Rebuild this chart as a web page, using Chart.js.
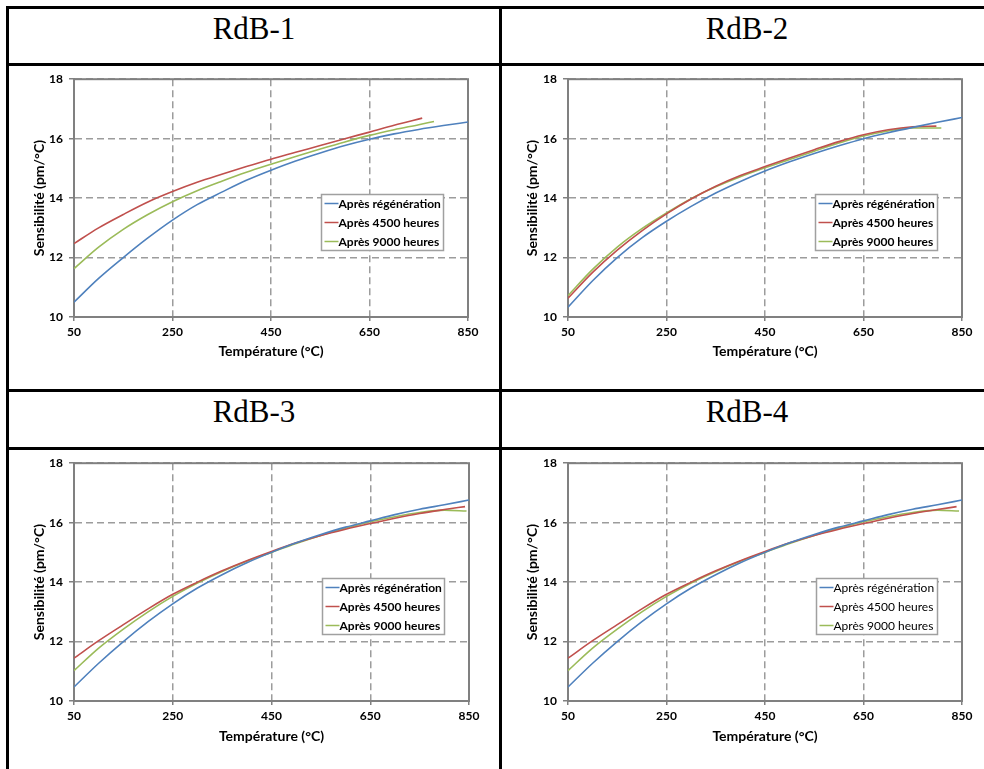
<!DOCTYPE html>
<html>
<head>
<meta charset="utf-8">
<script src="https://cdn.jsdelivr.net/npm/chart.js@4.4.0/dist/chart.umd.min.js"></script>
<style>
body { margin:0; background:#fff; overflow:hidden; width:984px; height:769px; position:relative; }
.bar { position:absolute; background:#000; }
.title { position:absolute; width:490px; text-align:center; font-family:"Liberation Serif","Times New Roman",serif; font-size:31px; line-height:31px; color:#000; }
canvas { position:absolute; }
</style>
</head>
<body>
<div class="bar" style="left:6px;top:6px;width:990px;height:3px"></div>
<div class="bar" style="left:6px;top:63px;width:990px;height:3px"></div>
<div class="bar" style="left:6px;top:389px;width:990px;height:3px"></div>
<div class="bar" style="left:6px;top:447px;width:990px;height:3px"></div>
<div class="bar" style="left:6px;top:6px;width:3px;height:770px"></div>
<div class="bar" style="left:499px;top:6px;width:3px;height:770px"></div>

<div class="title" id="t1" style="left:9px;top:13px"></div>
<div class="title" id="t2" style="left:502px;top:13px"></div>
<div class="title" id="t3" style="left:9px;top:396px"></div>
<div class="title" id="t4" style="left:502px;top:396px"></div>

<canvas id="c1" width="490" height="323" style="left:9px;top:66px"></canvas>
<canvas id="c2" width="490" height="323" style="left:502px;top:66px"></canvas>
<canvas id="c3" width="490" height="319" style="left:9px;top:450px"></canvas>
<canvas id="c4" width="490" height="319" style="left:502px;top:450px"></canvas>

<script>
// data
var titles = ["RdB-1", "RdB-2", "RdB-3", "RdB-4"];
var seriesNames = ["Après régénération", "Après 4500 heures", "Après 9000 heures"];
var seriesColors = ["#4F81BD", "#C0504D", "#9BBB59"];
var xTicks = [50, 250, 450, 650, 850];
var yTicks = [10, 12, 14, 16, 18];
var xTitle = "Température (°C)";
var yTitle = "Sensibilité (pm/°C)";

var tFull = [50, 100, 150, 200, 250, 300, 350, 400, 450, 500, 550, 600, 650, 700, 750, 800, 850];

// RdB-1
var rdb1RegenS = [10.5, 11.3, 12.0, 12.66, 13.26, 13.78, 14.2, 14.6, 14.94, 15.25, 15.52, 15.77, 15.98, 16.16, 16.31, 16.44, 16.56];
var rdb1H4500T = [50, 100, 150, 200, 250, 300, 350, 400, 450, 500, 550, 600, 650, 700, 757];
var rdb1H4500S = [12.47, 13.0, 13.45, 13.87, 14.22, 14.53, 14.8, 15.06, 15.31, 15.54, 15.77, 16.0, 16.22, 16.45, 16.69];
var rdb1H9000T = [50, 100, 150, 200, 250, 300, 350, 400, 450, 500, 550, 600, 650, 700, 750, 781];
var rdb1H9000S = [11.63, 12.35, 12.95, 13.45, 13.88, 14.25, 14.57, 14.87, 15.14, 15.4, 15.65, 15.89, 16.11, 16.3, 16.47, 16.58];

// RdB-2
var rdb2RegenS = [10.33, 11.22, 12.0, 12.66, 13.22, 13.72, 14.17, 14.56, 14.91, 15.22, 15.5, 15.76, 16.0, 16.2, 16.38, 16.55, 16.71];
var rdb2H4500T = [50, 100, 150, 200, 250, 300, 350, 400, 450, 500, 550, 600, 650, 700, 750, 798];
var rdb2H4500S = [10.63, 11.5, 12.25, 12.9, 13.47, 13.97, 14.4, 14.76, 15.06, 15.35, 15.63, 15.9, 16.13, 16.3, 16.4, 16.42];
var rdb2H9000T = [50, 100, 150, 200, 250, 300, 350, 400, 450, 500, 550, 600, 650, 700, 750, 808];
var rdb2H9000S = [10.72, 11.6, 12.35, 12.97, 13.5, 13.98, 14.38, 14.72, 15.02, 15.3, 15.58, 15.85, 16.09, 16.26, 16.36, 16.36];

// RdB-3
var rdb3RegenS = [10.47, 11.27, 12.0, 12.67, 13.27, 13.8, 14.25, 14.65, 15.0, 15.32, 15.6, 15.85, 16.06, 16.27, 16.45, 16.6, 16.76];
var rdb3H4500T = [50, 100, 150, 200, 250, 300, 350, 400, 450, 500, 550, 600, 650, 700, 750, 800, 842];
var rdb3H4500S = [11.44, 12.03, 12.57, 13.1, 13.59, 14.0, 14.38, 14.72, 15.03, 15.32, 15.57, 15.78, 15.97, 16.15, 16.31, 16.44, 16.54];
var rdb3H9000T = [50, 100, 150, 200, 250, 300, 350, 400, 450, 500, 550, 600, 650, 700, 750, 800, 845];
var rdb3H9000S = [11.02, 11.78, 12.42, 13.0, 13.52, 13.97, 14.36, 14.7, 15.0, 15.3, 15.57, 15.81, 16.03, 16.2, 16.34, 16.42, 16.39];

// RdB-4
var rdb4RegenS = [10.47, 11.27, 12.0, 12.67, 13.27, 13.8, 14.25, 14.65, 15.0, 15.32, 15.6, 15.85, 16.06, 16.27, 16.45, 16.6, 16.76];
var rdb4H4500T = [50, 100, 150, 200, 250, 300, 350, 400, 450, 500, 550, 600, 650, 700, 750, 800, 839];
var rdb4H4500S = [11.44, 12.03, 12.57, 13.1, 13.59, 14.0, 14.38, 14.72, 15.03, 15.32, 15.57, 15.78, 15.97, 16.15, 16.31, 16.44, 16.54];
var rdb4H9000T = [50, 100, 150, 200, 250, 300, 350, 400, 450, 500, 550, 600, 650, 700, 750, 800, 844];
var rdb4H9000S = [11.02, 11.78, 12.42, 13.0, 13.52, 13.97, 14.36, 14.7, 15.0, 15.3, 15.57, 15.81, 16.03, 16.2, 16.34, 16.42, 16.39];

var axisColor = "#808080";
var gridColor = "#9c9c9c";
var font = "Lato";

// solid box round the plot area
var framePlugin = {
    id: "frame",
    beforeDatasetsDraw: function(chart) {
        var a = chart.chartArea, ctx = chart.ctx;
        ctx.save();
        ctx.strokeStyle = axisColor;
        ctx.lineWidth = 2;
        ctx.strokeRect(a.left, a.top, a.right - a.left, a.bottom - a.top);
        ctx.restore();
    }
};

// legend box drawn inside the plot, like the Excel one
var insideLegend = {
    id: "insideLegend",
    afterDatasetsDraw: function(chart, args, opts) {
        var a = chart.chartArea, ctx = chart.ctx;
        var ds = chart.data.datasets;
        ctx.save();
        ctx.font = (opts.bold ? "bold " : "") + "12px " + font;
        var w = 0;
        ds.forEach(function(d) { w = Math.max(w, ctx.measureText(d.label).width); });
        var boxW = Math.round(w + 20), boxH = 56;
        var x0 = Math.round(a.right - 25 - boxW) + 0.5;
        var y0 = Math.round(a.top + (a.bottom - a.top) * 0.483) + 0.5;
        ctx.fillStyle = "#fff";
        ctx.fillRect(x0, y0, boxW, boxH);
        ctx.strokeStyle = "#a0a0a0";
        ctx.lineWidth = 1.5;
        ctx.strokeRect(x0, y0, boxW, boxH);
        ds.forEach(function(d, i) {
            var yc = y0 + 9 + i * 19;
            ctx.strokeStyle = d.borderColor;
            ctx.lineWidth = 1.5;
            ctx.beginPath();
            ctx.moveTo(x0 + 3, yc);
            ctx.lineTo(x0 + 17, yc);
            ctx.stroke();
            ctx.fillStyle = "#000";
            ctx.textBaseline = "middle";
            ctx.fillText(d.label, x0 + 17, yc + 0.5);
        });
        ctx.restore();
    }
};

function makeChart(id, series, geo, legendBold) {
    var datasets = series.map(function(s, i) {
        return {
            label: seriesNames[i],
            data: s.T.map(function(t, k) { return {x: t, y: s.S[k]}; }),
            borderColor: seriesColors[i],
            borderWidth: 1.6,
            pointRadius: 0,
            cubicInterpolationMode: "monotone",
            fill: false
        };
    });
    return new Chart(document.getElementById(id), {
        type: "line",
        data: {datasets: datasets},
        plugins: [framePlugin, insideLegend],
        options: {
            responsive: false,
            animation: false,
            layout: {padding: {top: geo.top, right: geo.right, left: 0, bottom: 0}},
            plugins: {
                legend: {display: false},
                tooltip: {enabled: false},
                insideLegend: {bold: legendBold}
            },
            scales: {
                x: {
                    type: "linear",
                    min: 50, max: 850,
                    afterBuildTicks: function(scale) {
                        scale.ticks = xTicks.map(function(v) { return {value: v}; });
                    },
                    afterFit: function(scale) { scale.height = geo.xh; },
                    grid: {color: gridColor, lineWidth: 1.5, tickLength: 4, tickColor: axisColor, tickBorderDash: []},
                    border: {color: axisColor, width: 2, dash: [7, 4]},
                    ticks: {color: "#000", padding: 4, maxRotation: 0, font: {family: font, size: 12, weight: "bold"}},
                    title: {display: true, text: xTitle, color: "#000", padding: {top: 0, bottom: geo.xtb},
                        font: {family: font, size: 14, weight: "bold"}}
                },
                y: {
                    min: 10, max: 18,
                    afterBuildTicks: function(scale) {
                        scale.ticks = yTicks.map(function(v) { return {value: v}; });
                    },
                    afterFit: function(scale) { scale.width = geo.yw; },
                    grid: {color: gridColor, lineWidth: 1.5, tickLength: 5, tickColor: axisColor, tickBorderDash: []},
                    border: {color: axisColor, width: 2, dash: [7, 4]},
                    ticks: {color: "#000", padding: 6, font: {family: font, size: 12, weight: "bold"}},
                    title: {display: true, text: yTitle, color: "#000", padding: {top: 22, bottom: 0},
                        font: {family: font, size: 14, weight: "bold"}}
                }
            }
        }
    });
}

titles.forEach(function(t, i) { document.getElementById("t" + (i + 1)).textContent = t; });

makeChart("c1", [
    {T: tFull, S: rdb1RegenS}, {T: rdb1H4500T, S: rdb1H4500S}, {T: rdb1H9000T, S: rdb1H9000S}
], {top: 11, right: 31, yw: 65, xh: 72, xtb: 29}, true);

makeChart("c2", [
    {T: tFull, S: rdb2RegenS}, {T: rdb2H4500T, S: rdb2H4500S}, {T: rdb2H9000T, S: rdb2H9000S}
], {top: 11, right: 30, yw: 66, xh: 72, xtb: 29}, true);

makeChart("c3", [
    {T: tFull, S: rdb3RegenS}, {T: rdb3H4500T, S: rdb3H4500S}, {T: rdb3H9000T, S: rdb3H9000S}
], {top: 10, right: 30, yw: 65, xh: 68, xtb: 24}, true);

makeChart("c4", [
    {T: tFull, S: rdb4RegenS}, {T: rdb4H4500T, S: rdb4H4500S}, {T: rdb4H9000T, S: rdb4H9000S}
], {top: 10, right: 30, yw: 66, xh: 68, xtb: 24}, false);
</script>
</body>
</html>
